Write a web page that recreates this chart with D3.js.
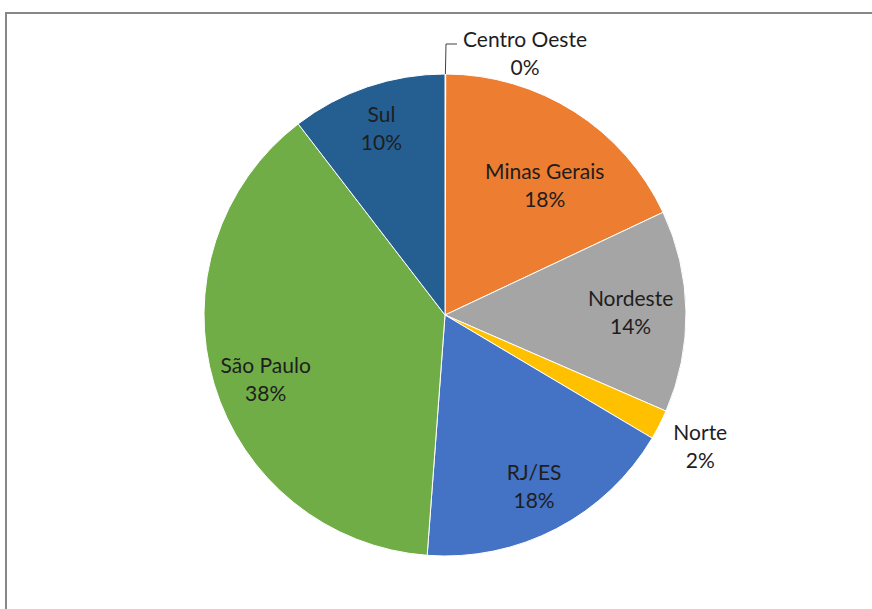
<!DOCTYPE html>
<html>
<head>
<meta charset="utf-8">
<script src="https://cdn.jsdelivr.net/npm/d3@7"></script>
<style>
  body { margin: 0; background: #fff; }
  text { font-family: Lato, "Liberation Sans", Arial, sans-serif; }
</style>
</head>
<body>
<div id="chart"></div>
<script>
// Data
const regions = ["Centro Oeste", "Minas Gerais", "Nordeste", "Norte", "RJ/ES", "São Paulo", "Sul"];
const shares = [0.05, 17.9, 13.5, 2.0, 17.6, 38.3, 10.4];
const colors = ["#5B9BD5", "#ED7D31", "#A5A5A5", "#FFC000", "#4472C4", "#70AD47", "#255E91"];
// label placement: distance from centre (share of radius) and angle nudge in degrees
const labelRadius = [1.0, 0.68, 0.77, 1.19, 0.8, 0.79, 0.82];
const labelNudge = [0, 5, 0, 0, 0, -3, 0];

const width = 872, height = 609;
const cx = 445, cy = 315, r = 241;

const svg = d3.select("#chart")
  .append("svg")
  .attr("width", width)
  .attr("height", height);

// Chart frame
svg.append("rect")
  .attr("x", 6)
  .attr("y", 13)
  .attr("width", 900)
  .attr("height", 700)
  .attr("fill", "#fff")
  .attr("stroke", "#878787")
  .attr("stroke-width", 2);

const data = regions.map(function (d, i) {
  return { name: d, value: shares[i], color: colors[i], lr: labelRadius[i], nudge: labelNudge[i] };
});

const pie = d3.pie().sort(null).value(function (d) { return d.value; });
const arc = d3.arc().innerRadius(0).outerRadius(r);
const arcs = pie(data);
const total = d3.sum(shares);

const g = svg.append("g").attr("transform", "translate(" + cx + "," + cy + ")");

g.selectAll("path.slice")
  .data(arcs)
  .enter()
  .append("path")
  .attr("class", "slice")
  .attr("d", arc)
  .attr("fill", function (d) { return d.data.color; })
  .attr("stroke", "#fff")
  .attr("stroke-width", 1);

// Labels
const labels = g.selectAll("g.label")
  .data(arcs)
  .enter()
  .append("g")
  .attr("class", "label")
  .attr("transform", function (d) {
    if (d.index === 0) {
      return "translate(80,-262)";
    }
    const a = (d.startAngle + d.endAngle) / 2 + d.data.nudge * Math.PI / 180;
    const rr = r * d.data.lr;
    return "translate(" + (Math.sin(a) * rr) + "," + (-Math.cos(a) * rr) + ")";
  });

labels.append("text")
  .attr("text-anchor", "middle")
  .attr("y", -6)
  .attr("font-size", 21)
  .attr("fill", "#1e1e1e")
  .text(function (d) { return d.data.name; });

labels.append("text")
  .attr("text-anchor", "middle")
  .attr("y", 22)
  .attr("font-size", 21)
  .attr("fill", "#1e1e1e")
  .text(function (d) { return Math.round(d.data.value / total * 100) + "%"; });

// Leader line for the tiny slice
const tiny = arcs[0];
const ta = (tiny.startAngle + tiny.endAngle) / 2;
g.append("path")
  .attr("fill", "none")
  .attr("stroke", "#404040")
  .attr("stroke-width", 1)
  .attr("d", d3.line()([
    [Math.sin(ta) * r, -Math.cos(ta) * r],
    [1, -271],
    [12, -271]
  ]));
</script>
</body>
</html>
